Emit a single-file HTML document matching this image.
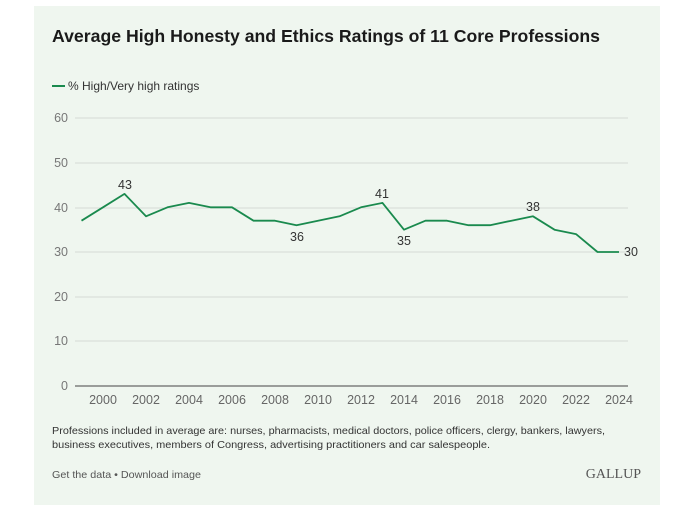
<!DOCTYPE html>
<html><head><meta charset="utf-8"><style>
body{margin:0;background:#fff;width:675px;height:516px;overflow:hidden;font-family:"Liberation Sans",sans-serif}
</style></head><body>
<svg width="675" height="516" xmlns="http://www.w3.org/2000/svg" font-family="Liberation Sans, sans-serif">
<rect x="34" y="6" width="626" height="499" fill="#eff6ef"/>
<text x="52" y="42" font-size="17.5" font-weight="bold" fill="#1a1a1a" textLength="548" lengthAdjust="spacingAndGlyphs">Average High Honesty and Ethics Ratings of 11 Core Professions</text>
<line x1="52" y1="86" x2="65" y2="86" stroke="#1a8a4e" stroke-width="2"/>
<text x="68" y="90" font-size="12" fill="#333">% High/Very high ratings</text>
<g stroke="#d4dbd5" stroke-width="1">
<line x1="75" y1="118" x2="628" y2="118"/><line x1="75" y1="163" x2="628" y2="163"/>
<line x1="75" y1="208" x2="628" y2="208"/><line x1="75" y1="252" x2="628" y2="252"/>
<line x1="75" y1="297" x2="628" y2="297"/><line x1="75" y1="341" x2="628" y2="341"/>
</g>
<line x1="75" y1="386" x2="628" y2="386" stroke="#444" stroke-width="1"/>
<g font-size="12.5" fill="#777" text-anchor="end">
<text x="68" y="122">60</text><text x="68" y="167">50</text><text x="68" y="212">40</text>
<text x="68" y="256">30</text><text x="68" y="301">20</text><text x="68" y="345">10</text><text x="68" y="390">0</text>
</g>
<g font-size="12.5" fill="#666" text-anchor="middle">
<text x="103" y="404">2000</text><text x="146" y="404">2002</text><text x="189" y="404">2004</text>
<text x="232" y="404">2006</text><text x="275" y="404">2008</text><text x="318" y="404">2010</text>
<text x="361" y="404">2012</text><text x="404" y="404">2014</text><text x="447" y="404">2016</text>
<text x="490" y="404">2018</text><text x="533" y="404">2020</text><text x="576" y="404">2022</text>
<text x="619" y="404">2024</text>
</g>
<polyline fill="none" stroke="#1a8a4e" stroke-width="1.8" stroke-linejoin="round" points="81.5,220.7 103,207.3 124.5,193.9 146,216.3 167.5,207.3 189,202.9 210.5,207.3 232,207.3 253.5,220.7 275,220.7 296.5,225.2 318,220.7 339.5,216.3 361,207.3 382.5,202.9 404,229.7 425.5,220.7 447,220.7 468.5,225.2 490,225.2 511.5,220.7 533,216.3 554.5,229.7 576,234.1 597.5,252 619,252"/>
<g font-size="12.5" fill="#333" text-anchor="middle">
<text x="125" y="189">43</text><text x="297" y="241">36</text><text x="382" y="198">41</text>
<text x="404" y="245">35</text><text x="533" y="211">38</text><text x="631" y="256">30</text>
</g>
<text x="52" y="434" font-size="10.5" fill="#333" textLength="553" lengthAdjust="spacingAndGlyphs">Professions included in average are: nurses, pharmacists, medical doctors, police officers, clergy, bankers, lawyers,</text>
<text x="52" y="448" font-size="10.5" fill="#333" textLength="438" lengthAdjust="spacingAndGlyphs">business executives, members of Congress, advertising practitioners and car salespeople.</text>
<text x="52" y="478" font-size="10.5" fill="#555" textLength="149" lengthAdjust="spacingAndGlyphs">Get the data • Download image</text>
<text x="641" y="478" font-size="14" fill="#555" text-anchor="end" font-family="Liberation Serif, serif">GALLUP</text>
</svg>
</body></html>
